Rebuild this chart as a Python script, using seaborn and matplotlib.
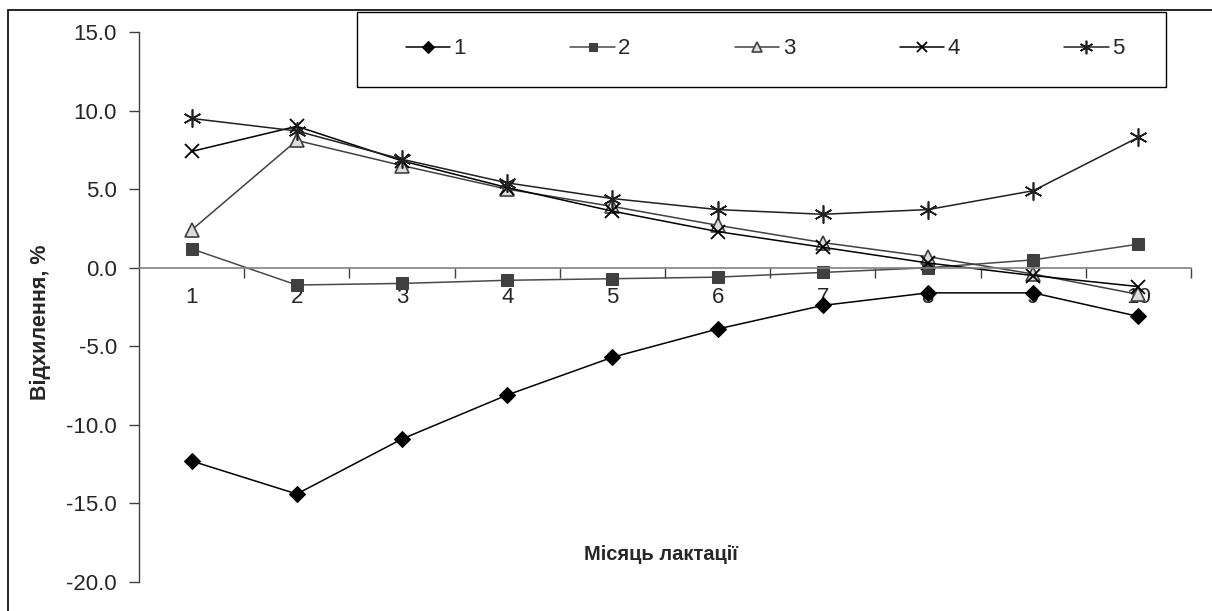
import matplotlib
matplotlib.use("Agg")

import matplotlib.pyplot as plt
import seaborn as sns
from matplotlib.patches import Rectangle
from matplotlib.ticker import FixedLocator, FuncFormatter

# ── Data ─────────────────────────────────────────────────────────────────────
months = list(range(1, 11))
series_labels = ["1", "2", "3", "4", "5"]
s1 = [-12.3, -14.4, -10.9, -8.1, -5.7, -3.9, -2.4, -1.6, -1.6, -3.1]
s2 = [1.2, -1.1, -1.0, -0.8, -0.7, -0.6, -0.3, 0.0, 0.5, 1.5]
s3 = [2.4, 8.1, 6.5, 5.0, 3.9, 2.7, 1.6, 0.7, -0.4, -1.7]
s4 = [7.4, 9.0, 6.8, 5.1, 3.6, 2.3, 1.3, 0.3, -0.5, -1.2]
s5 = [9.5, 8.7, 6.9, 5.4, 4.4, 3.7, 3.4, 3.7, 4.9, 8.3]
y_ticks = [-20, -15, -10, -5, 0, 5, 10, 15]

# ── Style ────────────────────────────────────────────────────────────────────
sns.set_theme(style="white")
plt.rcParams["font.family"] = ["Liberation Sans", "DejaVu Sans"]

styles = [
    dict(color="black", marker="D", markersize=8, markerfacecolor="black",
         markeredgecolor="black"),
    dict(color="#4a4a4a", marker="s", markersize=8.5, markerfacecolor="#404040",
         markeredgecolor="#404040"),
    dict(color="#404040", marker="^", markersize=10, markerfacecolor="#dcdcdc",
         markeredgecolor="#404040", markeredgewidth=1.2),
    dict(color="black", marker="x", markersize=10, markeredgewidth=1.3,
         markeredgecolor="black"),
    dict(color="#202020", marker=(6, 2, 0), markersize=13, markeredgewidth=1.2,
         markeredgecolor="#202020"),
]

fig = plt.figure(figsize=(12.12, 6.11), dpi=100)
ax = fig.add_axes([139 / 1212, 1 - 582 / 611, 1052 / 1212, 550 / 611])

for vals, lab, st in zip([s1, s2, s3, s4, s5], series_labels, styles):
    sns.lineplot(x=months, y=vals, ax=ax, label=lab, linewidth=1.1, **st)

ax.set_xlim(0.5, 10.5)
ax.set_ylim(-20, 15)

# y axis
ax.set_yticks(y_ticks)
ax.yaxis.set_major_formatter(FuncFormatter(lambda v, _: f"{v:.1f}"))
ax.tick_params(axis="y", direction="out", length=7, width=1, color="#404040",
               labelsize=16, pad=9, left=True)
ax.spines["left"].set_color("#404040")
ax.spines["left"].set_linewidth(1)

# x axis through zero, ticks between categories, labels under it
ax.spines["bottom"].set_position(("data", 0))
ax.spines["bottom"].set_color("#808080")
ax.spines["bottom"].set_linewidth(1.2)
ax.spines["top"].set_visible(False)
ax.spines["right"].set_visible(False)
ax.xaxis.set_major_locator(FixedLocator([m + 0.5 for m in months]))
ax.xaxis.set_minor_locator(FixedLocator(months))
ax.xaxis.set_major_formatter(FuncFormatter(lambda v, _: ""))
ax.xaxis.set_minor_formatter(FuncFormatter(lambda v, _: f"{int(round(v))}"))
ax.tick_params(axis="x", which="major", direction="out", length=7, width=1,
               color="#404040", bottom=True)
ax.tick_params(axis="x", which="minor", length=0, labelsize=16, pad=14,
               bottom=True)
ax.set_xlabel("")
ax.set_ylabel("")
ax.grid(False)

fig.text(40 / 1212, 1 - 322 / 611, "Відхилення, %", rotation=90,
         ha="center", va="center", fontsize=15.5, fontweight="bold")
fig.text(661 / 1212, 1 - 555 / 611, "Місяць лактації",
         ha="center", va="center", fontsize=14.5, fontweight="bold")

# legend box along the top, entries centred inside it
ax.legend_.remove()
fig.add_artist(Rectangle((357 / 1212, 1 - 87 / 611), 809 / 1212, 75 / 611,
                         transform=fig.transFigure, fill=False,
                         edgecolor="black", linewidth=1.0))
handles, labels = ax.get_legend_handles_labels()
fig.legend(handles, labels, ncol=5, loc="center",
           bbox_to_anchor=(765 / 1212, 1 - 49 / 611),
           frameon=False, fontsize=16, markerscale=0.75,
           handlelength=2.0, handletextpad=0.15, columnspacing=4.7)

# outer chart frame (only top/left visible in the crop)
fig.add_artist(Rectangle((8 / 1212, -0.2), 1.5, 1 - 10 / 611 + 0.2,
                         transform=fig.transFigure, fill=False,
                         edgecolor="black", linewidth=1.2))

fig.savefig("out.png", dpi=100)
